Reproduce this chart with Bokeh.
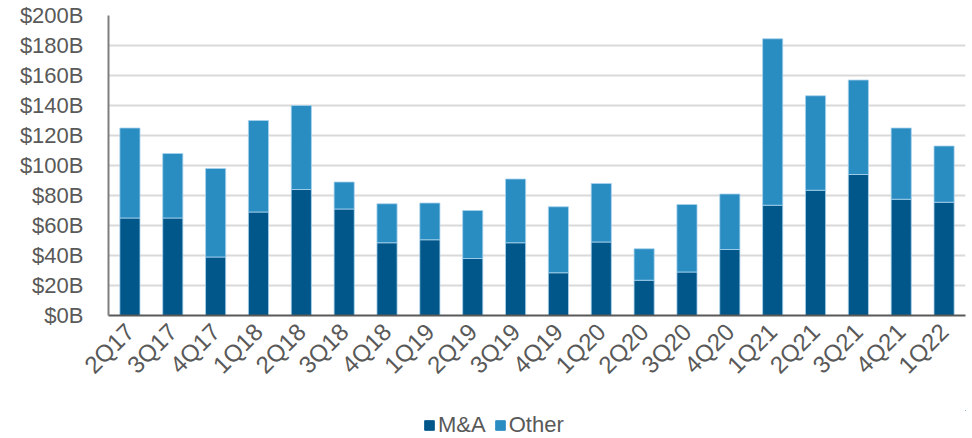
from bokeh.plotting import figure
from bokeh.models import FactorRange, Range1d, SingleIntervalTicker, PrintfTickFormatter, Legend
from bokeh.layouts import column
from bokeh.embed import file_html
from bokeh.resources import INLINE
import math

quarters = ["2Q17", "3Q17", "4Q17", "1Q18", "2Q18", "3Q18", "4Q18", "1Q19", "2Q19", "3Q19",
            "4Q19", "1Q20", "2Q20", "3Q20", "4Q20", "1Q21", "2Q21", "3Q21", "4Q21", "1Q22"]
totals = [125, 108, 98, 130, 140, 89, 74.5, 75, 70, 91, 72.5, 88, 44.5, 74, 81, 184.5, 146.5, 157, 125, 113]
ma = [65, 65, 39, 69, 84, 71, 48.5, 50.5, 38, 48.5, 28.5, 49, 23.5, 29, 44, 73.5, 83.5, 94, 77.5, 75.5]
other = [t - m for t, m in zip(totals, ma)]
series = ["M&A", "Other"]
colors = ["#01578a", "#2a8dc2"]

font = "Liberation Sans"
txt = "#595959"

p = figure(width=972, height=410, x_range=FactorRange(factors=quarters, range_padding=0),
           y_range=Range1d(0, 200), output_backend="svg", toolbar_location=None,
           min_border_left=108, min_border_right=7, min_border_top=15, min_border_bottom=95)

data = {"q": quarters, "M&A": ma, "Other": other}
p.vbar_stack(series, x="q", width=0.47, source=data,
             color=colors, line_color="#a9d3ee", line_width=0.8)

p.outline_line_color = None
p.xgrid.grid_line_color = None
p.ygrid.grid_line_color = "#d9d9d9"
p.ygrid.grid_line_width = 2

p.yaxis.ticker = SingleIntervalTicker(interval=20)
p.yaxis.formatter = PrintfTickFormatter(format="$%dB")
p.yaxis.major_tick_line_color = None
p.yaxis.minor_tick_line_color = None
p.yaxis.major_tick_out = 0
p.yaxis.major_label_standoff = 21
p.yaxis.axis_line_color = "#7f7f7f"
p.yaxis.axis_line_width = 2

p.xaxis.major_tick_line_color = None
p.xaxis.major_tick_out = 0
p.xaxis.major_label_standoff = 12
p.xaxis.major_label_orientation = math.pi / 4
p.xaxis.axis_line_color = "#595959"
p.xaxis.axis_line_width = 2

p.yaxis.major_label_text_font_size = "22px"
p.xaxis.major_label_text_font_size = "24px"
for ax in (p.xaxis, p.yaxis):
    ax.major_label_text_font = font
    ax.major_label_text_color = txt

# legend row (its frame is aligned with the main plot's frame)
lg = figure(width=972, height=28, x_range=Range1d(0, 1), y_range=Range1d(0, 1),
            output_backend="svg", toolbar_location=None, x_axis_type=None, y_axis_type=None,
            min_border_left=108, min_border_right=7, min_border_top=0, min_border_bottom=0)
lg.outline_line_color = None
lg.grid.grid_line_color = None
items = []
for name, c in zip(series, colors):
    rr = lg.vbar(x=[5], top=[6], bottom=[5.5], width=0.1, color=c)
    items.append((name, [rr]))
legend = Legend(items=items, orientation="horizontal", location=(315, 0),
                border_line_color=None, background_fill_alpha=0,
                label_text_font=font, label_text_font_size="22px", label_text_color=txt,
                glyph_width=12, glyph_height=12, label_standoff=3, spacing=8,
                margin=0, padding=2)
lg.add_layout(legend, "center")

open("out.html", "w").write(file_html(column(p, lg, spacing=0), INLINE))
